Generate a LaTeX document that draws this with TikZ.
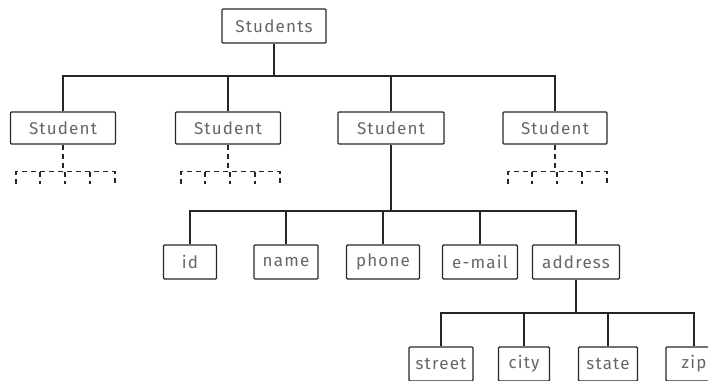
\documentclass[tikz,border=0pt]{standalone}
\usepackage{fontspec}
\setmainfont{Fira Sans}
\usetikzlibrary{calc}
\tikzset{
  box/.style={draw=black!85, line width=1.1pt, rounded corners=1pt, minimum height=33pt,
    inner sep=0pt, text=black!60, font=\fontsize{17}{18}\selectfont\addfontfeature{LetterSpace=7}},
  wire/.style={draw=black!85, line width=1.1pt},
  dl/.style={draw=black!85, line width=1.1pt, dash pattern=on 5pt off 4pt},
}
\begin{document}
\begin{tikzpicture}[x=1pt,y=-1pt]
\useasboundingbox (0,0) rectangle (708,380);
\clip (0,0) rectangle (708,380);
% bus levels
\coordinate (b1) at (0,76);
\coordinate (b2) at (0,211);
\coordinate (b3) at (0,313);
% nodes
\node[box, minimum width=104pt, minimum height=34pt] (root) at (274,26) {Students};
\node[box, minimum width=105pt, minimum height=32pt] (s1) at (63,128) {Student};
\node[box, minimum width=105pt, minimum height=32pt] (s2) at (228,128) {Student};
\node[box, minimum width=106pt, minimum height=32pt] (s3) at (391,128) {Student};
\node[box, minimum width=104pt, minimum height=32pt] (s4) at (555,128) {Student};
\node[box, minimum width=53pt, minimum height=34pt] (id) at (190,262) {id};
\node[box, minimum width=64pt, minimum height=34pt] (name) at (286,262) {name};
\node[box, minimum width=73pt, minimum height=34pt] (phone) at (383,262) {phone};
\node[box, minimum width=75pt, minimum height=34pt] (email) at (480,262) {e-mail};
\node[box, minimum width=87pt, minimum height=34pt] (addr) at (576,262) {address};
\node[box, minimum width=64pt, minimum height=34pt] (street) at (441,364) {street};
\node[box, minimum width=51pt, minimum height=34pt] (city) at (524,364) {city};
\node[box, minimum width=59pt, minimum height=34pt] (state) at (608,364) {state};
\node[box, minimum width=56pt, minimum height=34pt] (zip) at (694,364) {zip};
% connectors level 1
\draw[wire] (root.south) -- (root.south |- b1);
\foreach \c in {s1,s2,s3,s4} \draw[wire] (root.south |- b1) -| (\c.north);
% level 2
\draw[wire] (s3.south) -- (s3.south |- b2);
\foreach \c in {id,name,phone,email,addr} \draw[wire] (s3.south |- b2) -| (\c.north);
% level 3
\draw[wire] (addr.south) -- (addr.south |- b3);
\foreach \c in {street,city,state,zip} \draw[wire] (addr.south |- b3) -| (\c.north);
% dashed stubs
\foreach \n in {s1,s2,s4}{
  \draw[dl] (\n.south) -- ++(0,27) coordinate (\n-j);
  \draw[dl] ($(\n-j)+(-47,12)$) -- ($(\n-j)+(-47,0)$) -- ($(\n-j)+(52,0)$) -- ($(\n-j)+(52,12)$);
  \foreach \dx in {-23,2,27} \draw[dl] ($(\n-j)+(\dx,0)$) -- ++(0,12);
}
\end{tikzpicture}
\end{document}
